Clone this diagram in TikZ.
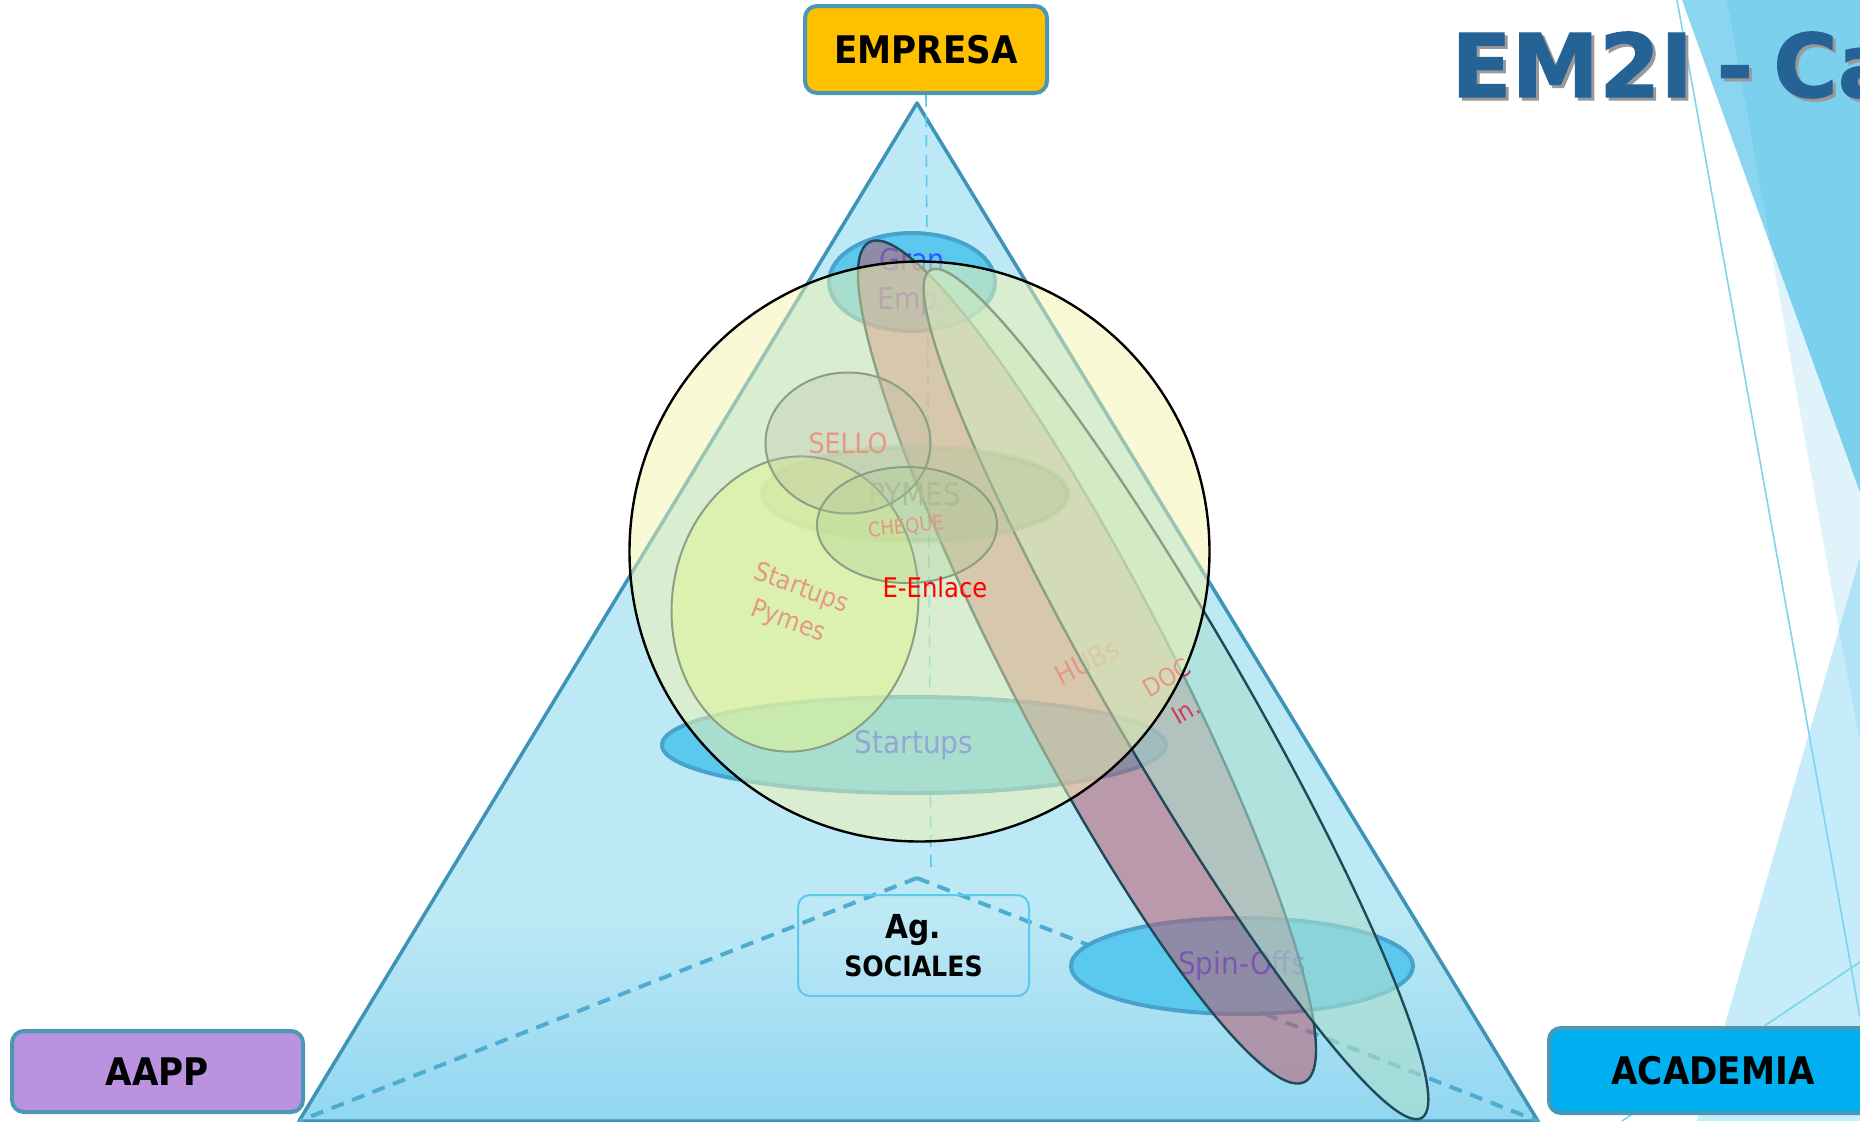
\documentclass[tikz,border=0pt]{standalone}
\usepackage{fontspec}
\setmainfont{DejaVu Sans Condensed}
\newfontfamily\titlefont[FakeBold=1.2]{DejaVu Sans Bold}
\usepackage{tikz}
\usetikzlibrary{shapes.geometric}

\definecolor{triblue}{RGB}{189,232,245}
\definecolor{tribottom}{RGB}{145,215,241}
\definecolor{triedge}{RGB}{62,147,184}
\definecolor{dashblue}{RGB}{79,172,208}
\definecolor{boxedge}{RGB}{74,152,182}
\definecolor{empresacol}{RGB}{255,192,0}
\definecolor{aappcol}{RGB}{187,146,223}
\definecolor{academiacol}{RGB}{0,176,240}
\definecolor{ellblue}{RGB}{91,200,238}
\definecolor{elledge}{RGB}{71,163,204}
\definecolor{txtblue}{RGB}{51,85,255}
\definecolor{txtred}{RGB}{210,60,90}
\definecolor{txtgrey}{RGB}{105,120,120}
\definecolor{hubsfill}{RGB}{185,90,110}
\definecolor{docfill}{RGB}{172,222,205}
\definecolor{darkedge}{RGB}{31,74,90}
\definecolor{overlay}{RGB}{245,245,175}
\definecolor{titleblue}{RGB}{37,99,150}
\definecolor{decolight}{RGB}{138,213,240}
\definecolor{decomid}{RGB}{123,208,238}
\definecolor{decopale}{RGB}{224,243,250}
\definecolor{decosky}{RGB}{197,236,248}
\definecolor{decodeep}{RGB}{176,227,245}
\definecolor{decoline}{RGB}{127,211,240}

\begin{document}
\begin{tikzpicture}[x=0.5pt,y=-0.5pt,inner sep=0pt,
  cornerbox/.style={draw=boxedge,line width=2pt,rounded corners=6pt,font=\fontsize{19}{23}\selectfont\bfseries},
  blueell/.style={ellipse,draw=elledge,line width=2pt,fill=ellblue,text=txtblue,font=\fontsize{15.5}{19.5}\selectfont},
  softell/.style={ellipse,draw=darkedge,line width=1pt,text=txtred,text opacity=1,font=\fontsize{14}{17}\selectfont},
  longell/.style={ellipse,draw=darkedge,line width=1.2pt,text=txtred,text opacity=1,font=\fontsize{13}{19}\selectfont},
  axisline/.style={ellblue,line width=.8pt,dash pattern=on 6pt off 4pt},
  innerline/.style={dashblue,line width=2pt,dash pattern=on 6.5pt off 4.5pt},
  titletext/.style={anchor=base west,font=\fontsize{44}{44}\selectfont\titlefont}]
\useasboundingbox (0,0) rectangle (1860,1121);
\clip (0,0) rectangle (1860,1121);
\fill[white] (0,0) rectangle (1860,1121);

% facets on the right edge
\fill[decolight] (1682,0) -- (1726,0) -- (1770,244) -- cycle;
\fill[decomid] (1726,0) -- (1860,0) -- (1860,493) -- (1770,244) -- cycle;
\fill[decopale] (1770,244) -- (1860,493) -- (1860,557) -- (1839,630) -- cycle;
\fill[decosky] (1860,557) -- (1697,1121) -- (1860,1121) -- cycle;
\fill[decodeep] (1860,557) -- (1839,630) -- (1860,741) -- cycle;
\draw[decoline,line width=.8pt] (1677,0) -- (1860,1017);
\draw[decoline,line width=.8pt] (1622,1121) -- (1860,962);

% title
\node[titletext,text=black!40] (titleshadow) at (1454,100) {EM2I\kern-.08em\ -\kern-.12em\ Ca};
\node[titletext,text=titleblue] (title) at (1451,97) {EM2I\kern-.08em\ -\kern-.12em\ Ca};

% the three corners
\node[cornerbox,fill=empresacol,minimum width=121pt,minimum height=43.5pt] (empresa) at (926,49.5) {EMPRESA};
\node[cornerbox,fill=aappcol,minimum width=145.5pt,minimum height=40.5pt] (aapp) at (157.5,1071.5) {AAPP};
\node[cornerbox,fill=academiacol,minimum width=164pt,minimum height=42.5pt] (academia) at (1713,1070.5) {ACADEMIA};

% triangle
\coordinate (apex) at (917,103);
\coordinate (bl) at (299,1121);
\coordinate (br) at (1538,1121);
\coordinate (inner) at (917,878);
\coordinate (vbase) at (931,874);
\fill[triblue] (apex) -- (bl) -- (br) -- cycle;
\begin{scope}
\clip (apex) -- (bl) -- (br) -- cycle;
\fill[top color=triblue,bottom color=tribottom] (290,915) rectangle (1550,1121);
\end{scope}
\draw[triedge,line width=1.75pt,line join=round] (apex) -- (bl) -- (br) -- cycle;
\draw[axisline] (empresa.south) -- (vbase);
\draw[innerline] (inner) -- (bl);
\draw[innerline] (inner) -- (br);

% groups
\node[blueell,align=center,font=\fontsize{15}{19.5}\selectfont,minimum width=83pt,minimum height=49pt] (granemp) at (912,282) {Gran\\Emp.};
\node[blueell,minimum width=252pt,minimum height=48pt] (startups) at (914,745) {Startups};
\node[blueell,minimum width=171pt,minimum height=48pt] (spinoffs) at (1242,966) {Spin-Offs};
\node[draw=ellblue,line width=1pt,rounded corners=6pt,minimum width=115.5pt,minimum height=50.5pt,align=center,font=\fontsize{14}{20}\selectfont\bfseries] (agsoc) at (913.5,945.5) {\raisebox{-2pt}{\fontsize{16.5}{20}\selectfont Ag.}\\[-1pt]\raisebox{-2pt}{SOCIALES}};

\node[longell,fill=hubsfill,fill opacity=.55,font=\fontsize{14}{17}\selectfont,minimum width=80pt,minimum height=473pt,rotate=27.4] (hubs) at (1087,662) {HUBs};
\node[longell,fill=docfill,fill opacity=.6,align=center,font=\fontsize{12.5}{19}\selectfont,minimum width=66pt,minimum height=490pt,rotate=30.1] (docin) at (1176,694) {DOC\\In.};

% instruments
\node[softell,fill={rgb,255:red,110;green,150;blue,130},fill opacity=.4,draw={rgb,255:red,110;green,150;blue,130},draw opacity=.35,line width=2.5pt,text=txtgrey,font=\fontsize{15.5}{19}\selectfont,minimum width=153pt,minimum height=47pt] (pymes) at (915,494) {PYMES};
\node[softell,fill={rgb,255:red,200;green,240;blue,130},fill opacity=.6,minimum width=123pt,minimum height=148pt,rotate=-7.6] (stpymes) at (795,604) {};
\node[text=txtred,rotate=-20,font=\fontsize{13}{16}\selectfont] (stpymes1) at (801,589) {Startups};
\node[text=txtred,rotate=-20,font=\fontsize{13}{16}\selectfont] (stpymes2) at (788,622) {Pymes};
\node[softell,fill={rgb,255:red,130;green,130;blue,150},fill opacity=.3,minimum width=82.5pt,minimum height=70.5pt] (sello) at (848,443) {SELLO};
\node[softell,fill={rgb,255:red,90;green,160;blue,120},fill opacity=.3,minimum width=90pt,minimum height=58pt] (cheque) at (907,525) {};
\node[text=txtred,rotate=6,font=\fontsize{10}{12}\selectfont] (chequetxt) at (906,527) {CHEQUE};

% E-Enlace
\node[circle,fill=overlay,fill opacity=.5,draw=black,draw opacity=1,line width=1.2pt,minimum size=290pt] (eenlace) at (919.5,551.5) {};
\node[text=red,font=\fontsize{13.5}{16}\selectfont] (eenlacetxt) at (935,587) {E-Enlace};
\end{tikzpicture}
\end{document}
